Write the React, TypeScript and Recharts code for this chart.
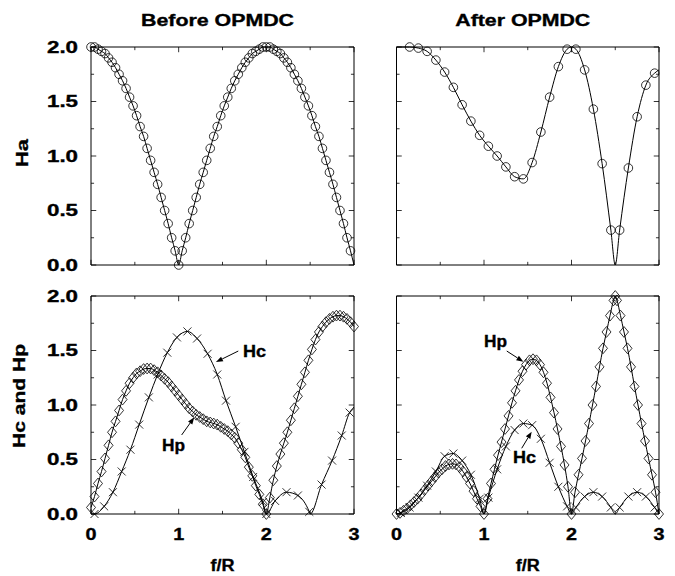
import React from "react";
import {
  ComposedChart,
  XAxis,
  YAxis,
  Line,
  Scatter,
  ReferenceLine,
  ReferenceArea,
  ReferenceDot,
  Label,
} from "recharts";

type Pt = [number, number];

// axis ticks
const fTicks = [0, 1, 2, 3];
const fMinor = [0.5, 1.5, 2.5];
const hTicks = [0, 0.5, 1, 1.5, 2];
const hMinor = [0.25, 0.75, 1.25, 1.75];

// Ha, before OPMDC (circles)
const haBefore: Pt[] = [
  [0, 2.0], [0.04, 2.0], [0.08, 1.98], [0.12, 1.96], [0.16, 1.94], [0.2, 1.9],
  [0.24, 1.86], [0.28, 1.81], [0.32, 1.75], [0.36, 1.69], [0.4, 1.62], [0.44, 1.54],
  [0.48, 1.46], [0.52, 1.37], [0.56, 1.27], [0.6, 1.18], [0.64, 1.07], [0.68, 0.96],
  [0.72, 0.85], [0.76, 0.74], [0.8, 0.62], [0.84, 0.5], [0.88, 0.38], [0.92, 0.25],
  [0.96, 0.13], [1, 0], [1.04, 0.13], [1.08, 0.25], [1.12, 0.38], [1.16, 0.5],
  [1.2, 0.62], [1.24, 0.74], [1.28, 0.85], [1.32, 0.96], [1.36, 1.07], [1.4, 1.18],
  [1.44, 1.27], [1.48, 1.37], [1.52, 1.46], [1.56, 1.54], [1.6, 1.62], [1.64, 1.69],
  [1.68, 1.75], [1.72, 1.81], [1.76, 1.86], [1.8, 1.9], [1.84, 1.94], [1.88, 1.96],
  [1.92, 1.98], [1.96, 2.0], [2, 2.0], [2.04, 2.0], [2.08, 1.98], [2.12, 1.96],
  [2.16, 1.94], [2.2, 1.9], [2.24, 1.86], [2.28, 1.81], [2.32, 1.75], [2.36, 1.69],
  [2.4, 1.62], [2.44, 1.54], [2.48, 1.46], [2.52, 1.37], [2.56, 1.27], [2.6, 1.18],
  [2.64, 1.07], [2.68, 0.96], [2.72, 0.85], [2.76, 0.74], [2.8, 0.62], [2.84, 0.5],
  [2.88, 0.38], [2.92, 0.25], [2.96, 0.13],
];
const haBeforeKnots: Pt[] = [[3, 0]];

// Ha, after OPMDC (circles)
const haAfter: Pt[] = [
  [0.15, 2.0], [0.25, 1.99], [0.35, 1.96], [0.45, 1.88], [0.55, 1.77], [0.65, 1.63],
  [0.75, 1.47], [0.85, 1.32], [0.95, 1.19], [1.05, 1.09], [1.15, 1.0], [1.25, 0.9],
  [1.35, 0.81], [1.45, 0.79], [1.55, 0.94], [1.65, 1.22], [1.75, 1.54], [1.85, 1.82],
  [1.95, 1.98], [2.05, 1.98], [2.15, 1.79], [2.25, 1.43], [2.35, 0.93], [2.45, 0.32],
  [2.55, 0.32], [2.65, 0.89], [2.75, 1.36], [2.85, 1.65], [2.95, 1.76],
];
const haAfterKnots: Pt[] = [[0, 2.0], [2, 2.0], [2.5, 0], [3, 1.79]];

// Hc, before OPMDC (crosses)
const hcBefore: Pt[] = [
  [0.04, 0.0], [0.15, 0.07], [0.25, 0.2], [0.35, 0.39], [0.45, 0.59], [0.55, 0.82],
  [0.66, 1.07], [0.76, 1.28], [0.87, 1.48], [0.98, 1.62], [1.1, 1.675], [1.21, 1.61],
  [1.33, 1.47], [1.44, 1.28], [1.54, 1.04], [1.65, 0.8], [1.75, 0.57], [1.85, 0.34],
  [1.96, 0.11], [2.0, 0.0], [2.1, 0.12], [2.23, 0.2], [2.36, 0.17], [2.49, 0.02],
  [2.63, 0.27], [2.75, 0.49], [2.86, 0.72], [2.95, 0.93],
];
const hcBeforeKnots: Pt[] = [[0, 0], [2.5, 0], [3, 0.98]];

// Hp, before OPMDC (diamonds)
const hpBefore: Pt[] = [
  [0, 0.06], [0.04, 0.16], [0.08, 0.28], [0.12, 0.39], [0.16, 0.51], [0.2, 0.63],
  [0.24, 0.75], [0.28, 0.85], [0.32, 0.95], [0.36, 1.05], [0.4, 1.13], [0.44, 1.2],
  [0.48, 1.25], [0.52, 1.29], [0.56, 1.31], [0.6, 1.33], [0.64, 1.335], [0.68, 1.335],
  [0.72, 1.32], [0.76, 1.3], [0.8, 1.27], [0.84, 1.24], [0.88, 1.21], [0.92, 1.17],
  [0.96, 1.13], [1, 1.09], [1.04, 1.05], [1.08, 1.01], [1.12, 0.97], [1.16, 0.94],
  [1.2, 0.91], [1.24, 0.89], [1.28, 0.87], [1.32, 0.85], [1.36, 0.84], [1.4, 0.83],
  [1.44, 0.82], [1.48, 0.8], [1.52, 0.78], [1.56, 0.76], [1.6, 0.73], [1.64, 0.7],
  [1.68, 0.65], [1.72, 0.59], [1.76, 0.52], [1.8, 0.43], [1.84, 0.35], [1.88, 0.26],
  [1.92, 0.18], [1.96, 0.09], [2, 0.0], [2.04, 0.15], [2.08, 0.31], [2.12, 0.44],
  [2.16, 0.55], [2.2, 0.65], [2.24, 0.75], [2.28, 0.86], [2.32, 0.97], [2.36, 1.08],
  [2.4, 1.19], [2.44, 1.3], [2.48, 1.41], [2.52, 1.51], [2.56, 1.6], [2.6, 1.67],
  [2.64, 1.72], [2.68, 1.76], [2.72, 1.79], [2.76, 1.81], [2.8, 1.82], [2.84, 1.82],
  [2.88, 1.81], [2.92, 1.79], [2.96, 1.76], [3, 1.72],
];

// Hc, after OPMDC (crosses)
const hcAfter: Pt[] = [
  [0.05, 0.01], [0.15, 0.06], [0.25, 0.15], [0.35, 0.26], [0.45, 0.39], [0.55, 0.53],
  [0.65, 0.555], [0.75, 0.49], [0.85, 0.36], [0.95, 0.14], [1.05, 0.15], [1.15, 0.41],
  [1.25, 0.62], [1.35, 0.77], [1.45, 0.83], [1.55, 0.815], [1.65, 0.69], [1.75, 0.47],
  [1.85, 0.25], [1.95, 0.07], [2.05, 0.06], [2.15, 0.16], [2.25, 0.2], [2.35, 0.16],
  [2.45, 0.06], [2.55, 0.06], [2.65, 0.16], [2.75, 0.2], [2.85, 0.16], [2.95, 0.06],
];
const hcAfterKnots: Pt[] = [[0, 0], [1, 0], [2, 0], [2.5, 0], [3, 0]];

// Hp, after OPMDC (diamonds)
const hpAfter: Pt[] = [
  [0, 0.0], [0.04, 0.01], [0.08, 0.03], [0.12, 0.05], [0.16, 0.08], [0.2, 0.11],
  [0.24, 0.14], [0.28, 0.18], [0.32, 0.22], [0.36, 0.26], [0.4, 0.3], [0.44, 0.34],
  [0.48, 0.38], [0.52, 0.41], [0.56, 0.44], [0.6, 0.455], [0.64, 0.46], [0.68, 0.455],
  [0.72, 0.43], [0.76, 0.39], [0.8, 0.34], [0.84, 0.28], [0.88, 0.21], [0.92, 0.14],
  [0.96, 0.07], [1, 0.0], [1.04, 0.14], [1.08, 0.28], [1.12, 0.41], [1.16, 0.54],
  [1.2, 0.66], [1.24, 0.78], [1.28, 0.9], [1.32, 1.02], [1.36, 1.13], [1.4, 1.23],
  [1.44, 1.31], [1.48, 1.37], [1.52, 1.41], [1.56, 1.42], [1.6, 1.41], [1.64, 1.37],
  [1.68, 1.3], [1.72, 1.2], [1.76, 1.07], [1.8, 0.93], [1.84, 0.78], [1.88, 0.62],
  [1.92, 0.45], [1.96, 0.25], [2, 0.0], [2.04, 0.2], [2.08, 0.36], [2.12, 0.51],
  [2.16, 0.67], [2.2, 0.83], [2.24, 1.0], [2.28, 1.17], [2.32, 1.35], [2.36, 1.52],
  [2.4, 1.67], [2.44, 1.82], [2.48, 1.96], [2.5, 2.0], [2.52, 1.96], [2.56, 1.82],
  [2.6, 1.67], [2.64, 1.52], [2.68, 1.35], [2.72, 1.17], [2.76, 1.0], [2.8, 0.83],
  [2.84, 0.67], [2.88, 0.51], [2.92, 0.36], [2.96, 0.2], [3, 0.0],
];

type Note = { text: string; at: Pt; tail: Pt; tip: Pt };

const notesBefore: Note[] = [
  { text: "Hc", at: [1.733, 1.44], tail: [1.68, 1.495], tip: [1.425, 1.394] },
  { text: "Hp", at: [0.81, 0.578], tail: [1.034, 0.725], tip: [1.178, 0.887] },
];
const notesAfter: Note[] = [
  { text: "Hp", at: [1.0, 1.532], tail: [1.26, 1.495], tip: [1.45, 1.397] },
  { text: "Hc", at: [1.331, 0.468], tail: [1.431, 0.603], tip: [1.545, 0.755] },
];

const W = 675;
const H = 576;
const FONT = '"Liberation Sans", Arial, Helvetica, sans-serif';
const FS = 16;

// inner tick lengths in data units
const MAJ_F = 0.06;
const MIN_F = 0.035;
const MAJ_H = 0.048;
const MIN_H = 0.029;

const rows = (pts: Pt[]) => pts.map(([f, v]) => ({ f, v }));
const curve = (pts: Pt[], knots: Pt[] = []) =>
  rows([...pts, ...knots].sort((a, b) => a[0] - b[0]));

const CircleMark = (s: any) => (
  <circle cx={s.cx} cy={s.cy} r={4.3} fill="none" stroke="#000" strokeWidth={0.8} />
);
const CrossMark = (s: any) => {
  const d = 4;
  return (
    <path
      d={`M${s.cx - d},${s.cy - d}L${s.cx + d},${s.cy + d}M${s.cx - d},${s.cy + d}L${s.cx + d},${s.cy - d}`}
      stroke="#000"
      strokeWidth={0.8}
      fill="none"
    />
  );
};
const DiamondMark = (s: any) => {
  const w = 4.5;
  const h = 5.4;
  return (
    <path
      d={`M${s.cx},${s.cy - h}L${s.cx + w},${s.cy}L${s.cx},${s.cy + h}L${s.cx - w},${s.cy}Z`}
      stroke="#000"
      strokeWidth={0.8}
      fill="none"
    />
  );
};

const Arrow = (p: any) => {
  const { x1, y1, x2, y2 } = p;
  const dx = x2 - x1;
  const dy = y2 - y1;
  const len = Math.hypot(dx, dy) || 1;
  const ux = dx / len;
  const uy = dy / len;
  const hl = 7;
  const hw = 2.6;
  const bx = x2 - ux * hl;
  const by = y2 - uy * hl;
  return (
    <g>
      <line x1={x1} y1={y1} x2={bx} y2={by} stroke="#000" strokeWidth={1} />
      <polygon
        points={`${x2},${y2} ${bx - uy * hw},${by + ux * hw} ${bx + uy * hw},${by - ux * hw}`}
        fill="#000"
      />
    </g>
  );
};

const textStyle = {
  fontFamily: FONT,
  fontWeight: 700,
  fontSize: FS,
  fill: "#000",
  stroke: "#000",
  strokeWidth: 0.35,
};

const FTick = (t: any) => (
  <text
    x={t.x}
    y={t.y + 25.5}
    textAnchor="middle"
    textLength={11}
    lengthAdjust="spacingAndGlyphs"
    style={textStyle}
  >
    {t.payload.value}
  </text>
);

const HTick = (t: any) => (
  <text
    x={t.x - 13}
    y={t.y + 5.7}
    textAnchor="end"
    textLength={31}
    lengthAdjust="spacingAndGlyphs"
    style={textStyle}
  >
    {Number(t.payload.value).toFixed(1)}
  </text>
);

type Series = { pts: Pt[]; knots?: Pt[]; mark: (s: any) => React.ReactElement };

interface PanelProps {
  left: number;
  top: number;
  right: number;
  bottom: number;
  series: Series[];
  title?: string;
  titleLen?: number;
  yLabel?: string;
  yLabelLen?: number;
  yLabelX?: number;
  yLabelDy?: number;
  showF: boolean;
  showH: boolean;
  notes?: Note[];
}

const Panel: React.FC<PanelProps> = (p) => (
  <div style={{ position: "absolute", left: 0, top: 0 }}>
    <ComposedChart
      width={W}
      height={H}
      margin={{ top: 0, left: 0, right: W - p.right, bottom: 0 }}
    >
      <XAxis
        xAxisId="top"
        orientation="top"
        type="number"
        domain={[0, 3]}
        height={p.top}
        tick={false}
        tickLine={false}
        axisLine={false}
      >
        {p.title && (
          <Label
            content={(lp: any) => (
              <text
                x={lp.viewBox.x + lp.viewBox.width / 2 - 5}
                y={26}
                textAnchor="middle"
                textLength={p.titleLen}
                lengthAdjust="spacingAndGlyphs"
                style={textStyle}
              >
                {p.title}
              </text>
            )}
          />
        )}
      </XAxis>
      <XAxis
        dataKey="f"
        type="number"
        domain={[0, 3]}
        ticks={fTicks}
        interval={0}
        height={H - p.bottom}
        tickSize={0}
        tickMargin={0}
        tickLine={false}
        axisLine={false}
        tick={p.showF ? FTick : false}
      >
        {p.showF && (
          <Label
            content={(lp: any) => (
              <text
                x={lp.viewBox.x + lp.viewBox.width / 2}
                y={lp.viewBox.y + 56.5}
                textAnchor="middle"
                textLength={24}
                lengthAdjust="spacingAndGlyphs"
                style={textStyle}
              >
                f/R
              </text>
            )}
          />
        )}
      </XAxis>
      <YAxis
        type="number"
        domain={[0, 2]}
        ticks={hTicks}
        interval={0}
        width={p.left}
        tickSize={0}
        tickMargin={0}
        tickLine={false}
        axisLine={false}
        tick={p.showH ? HTick : false}
      >
        {p.yLabel && (
          <Label
            content={(lp: any) => {
              const x = p.yLabelX ?? 27;
              const y = lp.viewBox.y + lp.viewBox.height / 2 + (p.yLabelDy ?? 0);
              return (
                <text
                  x={x}
                  y={y}
                  transform={`rotate(-90 ${x} ${y})`}
                  textAnchor="middle"
                  textLength={p.yLabelLen}
                  lengthAdjust="spacingAndGlyphs"
                  style={textStyle}
                >
                  {p.yLabel}
                </text>
              );
            }}
          />
        )}
      </YAxis>

      <ReferenceArea x1={0} x2={3} y1={0} y2={2} fill="none" fillOpacity={0} stroke="#000" strokeWidth={1} />

      {fTicks.concat(fMinor).map((f) => {
        const l = fMinor.includes(f) ? MIN_H : MAJ_H;
        return (
          <React.Fragment key={`f${f}`}>
            <ReferenceLine segment={[{ x: f, y: 0 }, { x: f, y: l }]} stroke="#000" strokeWidth={0.8} />
            <ReferenceLine segment={[{ x: f, y: 2 }, { x: f, y: 2 - l }]} stroke="#000" strokeWidth={0.8} />
          </React.Fragment>
        );
      })}
      {hTicks.concat(hMinor).map((h) => {
        const l = hMinor.includes(h) ? MIN_F : MAJ_F;
        return (
          <React.Fragment key={`h${h}`}>
            <ReferenceLine segment={[{ x: 0, y: h }, { x: l, y: h }]} stroke="#000" strokeWidth={0.8} />
            <ReferenceLine segment={[{ x: 3, y: h }, { x: 3 - l, y: h }]} stroke="#000" strokeWidth={0.8} />
          </React.Fragment>
        );
      })}

      {p.series.map((s, i) => (
        <Line
          key={`l${i}`}
          data={curve(s.pts, s.knots)}
          dataKey="v"
          type="monotone"
          dot={false}
          activeDot={false}
          stroke="#000"
          strokeWidth={1}
          isAnimationActive={false}
        />
      ))}
      {p.series.map((s, i) => (
        <Scatter
          key={`s${i}`}
          data={rows(s.pts)}
          dataKey="v"
          shape={s.mark}
          isAnimationActive={false}
        />
      ))}

      {(p.notes ?? []).map((n, i) => (
        <React.Fragment key={`n${i}`}>
          <ReferenceLine
            segment={[{ x: n.tail[0], y: n.tail[1] }, { x: n.tip[0], y: n.tip[1] }]}
            shape={Arrow}
          />
          <ReferenceDot
            x={n.at[0]}
            y={n.at[1]}
            r={0}
            shape={(d: any) => (
              <text
                x={d.cx}
                y={d.cy}
                textLength={23}
                lengthAdjust="spacingAndGlyphs"
                style={textStyle}
              >
                {n.text}
              </text>
            )}
          />
        </React.Fragment>
      ))}
    </ComposedChart>
  </div>
);

export default function App() {
  return (
    <div
      style={{
        position: "absolute",
        left: 0,
        top: 0,
        width: W,
        height: H,
        background: "#fff",
        overflow: "hidden",
      }}
    >
      <Panel
        left={91}
        top={47}
        right={354}
        bottom={265}
        title="Before OPMDC"
        titleLen={153}
        yLabel="Ha"
        yLabelLen={28}
        yLabelX={28}
        yLabelDy={-3}
        showF={false}
        showH={true}
        series={[{ pts: haBefore, knots: haBeforeKnots, mark: CircleMark }]}
      />
      <Panel
        left={396.5}
        top={47}
        right={659}
        bottom={265}
        title="After OPMDC"
        titleLen={135}
        showF={false}
        showH={false}
        series={[{ pts: haAfter, knots: haAfterKnots, mark: CircleMark }]}
      />
      <Panel
        left={91}
        top={296}
        right={354}
        bottom={514}
        yLabel="Hc and Hp"
        yLabelLen={104}
        yLabelX={25}
        yLabelDy={-9}
        showF={true}
        showH={true}
        series={[
          { pts: hpBefore, mark: DiamondMark },
          { pts: hcBefore, knots: hcBeforeKnots, mark: CrossMark },
        ]}
        notes={notesBefore}
      />
      <Panel
        left={396.5}
        top={296}
        right={659}
        bottom={514}
        showF={true}
        showH={false}
        series={[
          { pts: hpAfter, mark: DiamondMark },
          { pts: hcAfter, knots: hcAfterKnots, mark: CrossMark },
        ]}
        notes={notesAfter}
      />
    </div>
  );
}
